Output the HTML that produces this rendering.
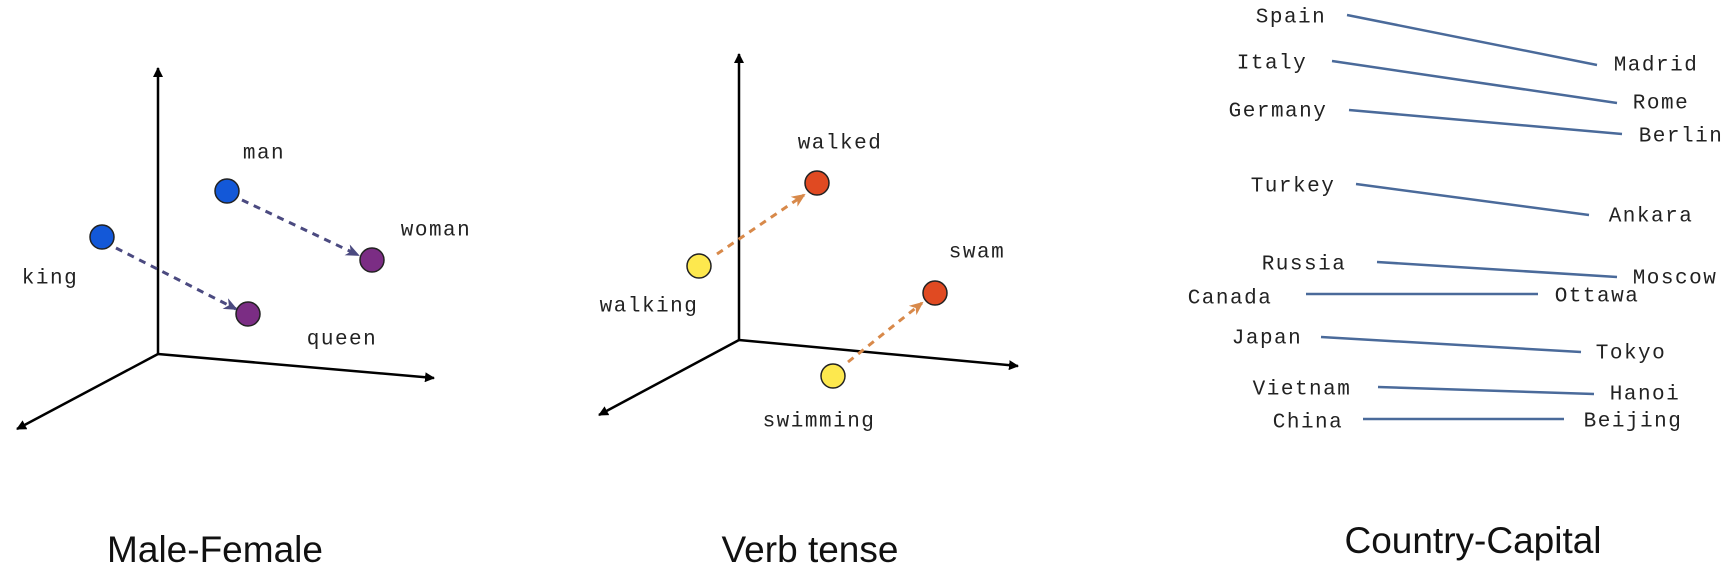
<!DOCTYPE html>
<html><head><meta charset="utf-8"><style>
html,body{margin:0;padding:0;background:#fff;}
svg{display:block}
.l{font-family:"Liberation Mono",monospace;font-size:21px;letter-spacing:1.5px;fill:#222;text-anchor:middle;dominant-baseline:middle}
.t{font-family:"Liberation Sans",sans-serif;font-size:37px;fill:#111;text-anchor:middle;dominant-baseline:middle}
.c{stroke:#4a6a9a;stroke-width:2.5}
</style></head><body>
<svg width="1726" height="572" viewBox="0 0 1726 572">
<defs>
<marker id="ah" markerWidth="10" markerHeight="10" refX="9" refY="5" orient="auto" markerUnits="userSpaceOnUse" viewBox="0 0 10 10"><path d="M0,0 L10,5 L0,10 z" fill="#000"/></marker>
<marker id="pa" markerWidth="14" markerHeight="12" refX="12" refY="6" orient="auto" markerUnits="userSpaceOnUse" viewBox="0 0 14 12"><path d="M0,0 L14,6 L0,12 L4,6 z" fill="#4b4a80"/></marker>
<marker id="oa" markerWidth="14" markerHeight="12" refX="12" refY="6" orient="auto" markerUnits="userSpaceOnUse" viewBox="0 0 14 12"><path d="M0,0 L14,6 L0,12 L4,6 z" fill="#d8894a"/></marker>
</defs>
<g stroke="#000" stroke-width="2.5" fill="none">
<line x1="158" y1="354" x2="158" y2="68" marker-end="url(#ah)"/>
<line x1="158" y1="354" x2="434" y2="378" marker-end="url(#ah)"/>
<line x1="158" y1="354" x2="17" y2="429" marker-end="url(#ah)"/>
</g>
<g stroke="#4b4a80" stroke-width="3" stroke-dasharray="7,6" fill="none">
<line x1="242" y1="200" x2="358" y2="255" marker-end="url(#pa)"/>
<line x1="116" y1="248" x2="236" y2="309" marker-end="url(#pa)"/>
</g>
<g stroke="#222" stroke-width="1.5">
<circle cx="227" cy="191" r="12" fill="#1358d8"/>
<circle cx="102" cy="237" r="12" fill="#1358d8"/>
<circle cx="372" cy="260" r="12" fill="#7b2d84"/>
<circle cx="248" cy="314" r="12" fill="#7b2d84"/>
</g>
<text class="l" x="264" y="153">man</text>
<text class="l" x="50" y="278">king</text>
<text class="l" x="436" y="230">woman</text>
<text class="l" x="342" y="339">queen</text>
<text class="t" x="215" y="552">Male-Female</text>
<g stroke="#000" stroke-width="2.5" fill="none">
<line x1="739" y1="340" x2="739" y2="54" marker-end="url(#ah)"/>
<line x1="739" y1="340" x2="1018" y2="366" marker-end="url(#ah)"/>
<line x1="739" y1="340" x2="599" y2="415" marker-end="url(#ah)"/>
</g>
<g stroke="#d8894a" stroke-width="3" stroke-dasharray="7,6" fill="none">
<line x1="717" y1="254" x2="804" y2="195" marker-end="url(#oa)"/>
<line x1="848" y1="362" x2="922" y2="303" marker-end="url(#oa)"/>
</g>
<g stroke="#222" stroke-width="1.5">
<circle cx="817" cy="183" r="12" fill="#e04a22"/>
<circle cx="699" cy="266" r="12" fill="#fde84e"/>
<circle cx="935" cy="293" r="12" fill="#e04a22"/>
<circle cx="833" cy="376" r="12" fill="#fde84e"/>
</g>
<text class="l" x="840" y="143">walked</text>
<text class="l" x="649" y="306">walking</text>
<text class="l" x="977" y="252">swam</text>
<text class="l" x="819" y="421">swimming</text>
<text class="t" x="810" y="552">Verb tense</text>
<g class="c">
<line x1="1347" y1="15" x2="1597" y2="65"/>
<line x1="1332" y1="61" x2="1617" y2="103"/>
<line x1="1349" y1="110" x2="1622" y2="134"/>
<line x1="1356" y1="184" x2="1589" y2="215"/>
<line x1="1377" y1="262" x2="1617" y2="277"/>
<line x1="1306" y1="294" x2="1538" y2="294"/>
<line x1="1321" y1="337" x2="1581" y2="352"/>
<line x1="1378" y1="387" x2="1594" y2="394"/>
<line x1="1363" y1="419" x2="1564" y2="419"/>
</g>
<text class="l" x="1291" y="17">Spain</text>
<text class="l" x="1656" y="65">Madrid</text>
<text class="l" x="1272" y="63">Italy</text>
<text class="l" x="1661" y="103">Rome</text>
<text class="l" x="1278" y="111">Germany</text>
<text class="l" x="1681" y="136">Berlin</text>
<text class="l" x="1293" y="186">Turkey</text>
<text class="l" x="1651" y="216">Ankara</text>
<text class="l" x="1304" y="264">Russia</text>
<text class="l" x="1675" y="278">Moscow</text>
<text class="l" x="1230" y="298">Canada</text>
<text class="l" x="1597" y="296">Ottawa</text>
<text class="l" x="1267" y="338">Japan</text>
<text class="l" x="1631" y="353">Tokyo</text>
<text class="l" x="1302" y="389">Vietnam</text>
<text class="l" x="1645" y="394">Hanoi</text>
<text class="l" x="1308" y="422">China</text>
<text class="l" x="1633" y="421">Beijing</text>
<text class="t" x="1473" y="543">Country-Capital</text>
</svg>
</body></html>
